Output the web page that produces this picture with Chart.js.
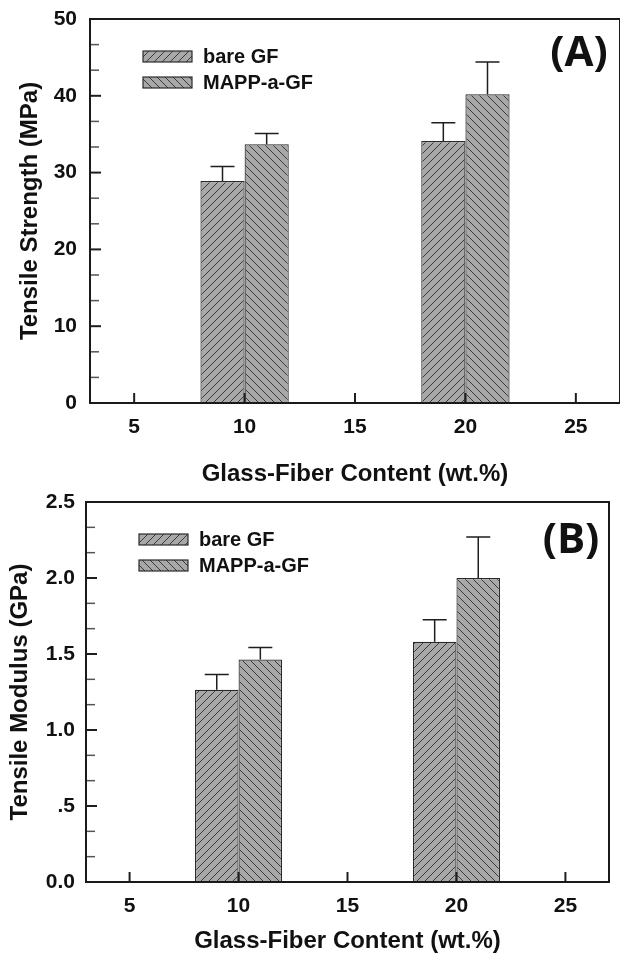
<!DOCTYPE html>
<html>
<head>
<meta charset="utf-8">
<script src="https://cdn.jsdelivr.net/npm/chart.js@4.4.0/dist/chart.umd.min.js"></script>
<style>
  html, body { margin: 0; padding: 0; background: #fff; overflow: hidden; }
  .panel { position: absolute; left: 0; width: 620px; }
  #panelA { top: 0; height: 490px; }
  #panelB { top: 490px; height: 466px; }
</style>
</head>
<body>
<div class="panel" id="panelA"><canvas id="chartA"></canvas></div>
<div class="panel" id="panelB"><canvas id="chartB"></canvas></div>
<script>
// glass fiber content (wt.%) where the bar pairs sit
const fiberContent = [10, 20];
const seriesNames = ['bare GF', 'MAPP-a-GF'];
const xTicks = [5, 10, 15, 20, 25];

// (A) tensile strength, MPa
const strengthBare = [28.9, 34.1];
const strengthBareErr = [1.9, 2.4];
const strengthMapp = [33.7, 40.2];
const strengthMappErr = [1.4, 4.2];
const strengthTicks = [0, 10, 20, 30, 40, 50];

// (B) tensile modulus, GPa
const modulusBare = [1.265, 1.58];
const modulusBareErr = [0.10, 0.145];
const modulusMapp = [1.463, 2.0];
const modulusMappErr = [0.08, 0.27];
const modulusTicks = [0, 0.5, 1.0, 1.5, 2.0, 2.5];

const FONT = '"Liberation Sans", Arial, sans-serif';

// diagonal hatch fill, dir 1 = "/", -1 = "\"
function hatch(dir) {
  const s = 8;
  const c = document.createElement('canvas');
  c.width = s; c.height = s;
  const g = c.getContext('2d');
  g.fillStyle = '#a8a8a8';
  g.fillRect(0, 0, s, s);
  g.strokeStyle = '#3a3a3a';
  g.lineWidth = 1;
  g.beginPath();
  if (dir > 0) {
    g.moveTo(-1, s + 1); g.lineTo(s + 1, -1);
    g.moveTo(-1, 1); g.lineTo(1, -1);
    g.moveTo(s - 1, s + 1); g.lineTo(s + 1, s - 1);
  } else {
    g.moveTo(-1, -1); g.lineTo(s + 1, s + 1);
    g.moveTo(-1, s - 1); g.lineTo(1, s + 1);
    g.moveTo(s - 1, -1); g.lineTo(s + 1, 1);
  }
  g.stroke();
  return g.createPattern(c, 'repeat');
}

// frame, inward ticks, error bars, legend and panel label
const extras = {
  id: 'extras',
  afterDatasetsDraw(chart, args, opts) {
    const ctx = chart.ctx;
    const { left, right, top, bottom } = chart.chartArea;
    const xs = chart.scales.x, ys = chart.scales.y;
    ctx.save();

    // error bars (upper only)
    ctx.strokeStyle = '#1e1e1e';
    ctx.lineWidth = 1.5;
    chart.data.datasets.forEach((ds, i) => {
      chart.getDatasetMeta(i).data.forEach((bar, j) => {
        const yTop = ys.getPixelForValue(ds.data[j] + opts.errors[i][j]);
        ctx.beginPath();
        ctx.moveTo(bar.x, bar.y);
        ctx.lineTo(bar.x, yTop);
        ctx.moveTo(bar.x - 12, yTop);
        ctx.lineTo(bar.x + 12, yTop);
        ctx.stroke();
      });
    });

    // y ticks, major + two minors between
    const yv = ys.ticks.map(t => t.value);
    ctx.strokeStyle = '#1e1e1e';
    ctx.lineWidth = 2;
    yv.forEach(v => {
      const p = ys.getPixelForValue(v);
      ctx.beginPath(); ctx.moveTo(left, p); ctx.lineTo(left + 11, p); ctx.stroke();
    });
    ctx.strokeStyle = '#555';
    ctx.lineWidth = 1.5;
    for (let k = 0; k < yv.length - 1; k++) {
      for (let m = 1; m < 3; m++) {
        const p = ys.getPixelForValue(yv[k] + (yv[k + 1] - yv[k]) * m / 3);
        ctx.beginPath(); ctx.moveTo(left, p); ctx.lineTo(left + 9, p); ctx.stroke();
      }
    }

    // x ticks
    ctx.strokeStyle = '#1e1e1e';
    ctx.lineWidth = 2;
    xs.ticks.forEach(t => {
      const p = xs.getPixelForValue(t.value);
      ctx.beginPath(); ctx.moveTo(p, bottom); ctx.lineTo(p, bottom - 10); ctx.stroke();
    });

    // frame
    ctx.strokeStyle = '#1a1a1a';
    ctx.lineWidth = 2;
    ctx.strokeRect(left, top, right - left, bottom - top);

    // legend
    ctx.font = 'bold 20px ' + FONT;
    ctx.textBaseline = 'middle';
    ctx.textAlign = 'left';
    chart.data.datasets.forEach((ds, i) => {
      const bx = left + 53, by = top + 32 + i * 26;
      ctx.fillStyle = ds.backgroundColor;
      ctx.fillRect(bx, by, 49, 11);
      ctx.strokeStyle = '#2b2b2b';
      ctx.lineWidth = 1.2;
      ctx.strokeRect(bx, by, 49, 11);
      ctx.fillStyle = '#111';
      ctx.fillText(ds.label, left + 113, by + 6);
    });

    // panel label
    ctx.font = 'bold 42px "Open Sans", sans-serif';
    ctx.textAlign = 'center';
    ctx.fillStyle = '#111';
    ctx.fillText(opts.panel, opts.panelX, opts.panelY);
    ctx.restore();
  }
};

function makeChart(id, cfg) {
  return new Chart(document.getElementById(id), {
    type: 'bar',
    data: {
      labels: fiberContent,
      datasets: [
        { label: seriesNames[0], data: cfg.bare, backgroundColor: hatch(1), borderColor: '#2b2b2b', borderWidth: 1.2 },
        { label: seriesNames[1], data: cfg.mapp, backgroundColor: hatch(-1), borderColor: '#2b2b2b', borderWidth: 1.2 }
      ]
    },
    options: {
      responsive: true,
      maintainAspectRatio: false,
      animation: false,
      layout: { padding: { left: 0, right: cfg.padRight, top: cfg.padTop, bottom: 0 } },
      datasets: { bar: { categoryPercentage: 0.8, barPercentage: 1.0 } },
      plugins: {
        legend: { display: false },
        tooltip: { enabled: false },
        extras: { errors: cfg.errors, panel: cfg.panel, panelX: cfg.panelX, panelY: cfg.panelY }
      },
      scales: {
        x: {
          type: 'linear', min: 3, max: 27, offset: false,
          afterBuildTicks: s => { s.ticks = xTicks.map(v => ({ value: v })); },
          afterFit: s => { s.height = cfg.xAxisH; s.paddingLeft = 0; s.paddingRight = 0; },
          grid: { display: false, drawTicks: false },
          border: { display: false },
          ticks: { padding: 12, color: '#111', font: { family: FONT, size: 21, weight: 'bold' } },
          title: {
            display: true, text: 'Glass-Fiber Content (wt.%)', color: '#111',
            padding: { top: 0, bottom: cfg.xTitlePad },
            font: { family: FONT, size: 24, weight: 'bold' }
          }
        },
        y: {
          min: 0, max: cfg.yTicks[cfg.yTicks.length - 1],
          afterBuildTicks: s => { s.ticks = cfg.yTicks.map(v => ({ value: v })); },
          afterFit: s => { s.width = cfg.yAxisW; s.paddingTop = 0; s.paddingBottom = 0; },
          grid: { display: false, drawTicks: false },
          border: { display: false },
          ticks: {
            padding: cfg.yTickPad, color: '#111',
            font: { family: FONT, size: 21, weight: 'bold' },
            callback: cfg.yFormat
          },
          title: {
            display: true, text: cfg.yTitle, color: '#111',
            padding: { top: cfg.yTitlePad, bottom: 0 },
            font: { family: FONT, size: 24, weight: 'bold' }
          }
        }
      }
    },
    plugins: [extras]
  });
}

makeChart('chartA', {
  bare: strengthBare, mapp: strengthMapp,
  errors: [strengthBareErr, strengthMappErr],
  yTicks: strengthTicks,
  yFormat: v => String(v),
  yTitle: 'Tensile Strength (MPa)',
  panel: '(A)', panelX: 579, panelY: 54,
  padTop: 19, padRight: 0, xAxisH: 87, yAxisW: 90,
  yTickPad: 13, yTitlePad: 15.6, xTitlePad: 1.6
});

makeChart('chartB', {
  bare: modulusBare, mapp: modulusMapp,
  errors: [modulusBareErr, modulusMappErr],
  yTicks: modulusTicks,
  yFormat: v => {
    const s = Number(v).toFixed(1);
    return (v > 0 && v < 1) ? s.slice(1) : s;
  },
  yTitle: 'Tensile Modulus (GPa)',
  panel: '(B)', panelX: 571, panelY: 51,
  padTop: 12, padRight: 11, xAxisH: 74, yAxisW: 86,
  yTickPad: 11, yTitlePad: 5.6, xTitlePad: 0
});
</script>
</body>
</html>
